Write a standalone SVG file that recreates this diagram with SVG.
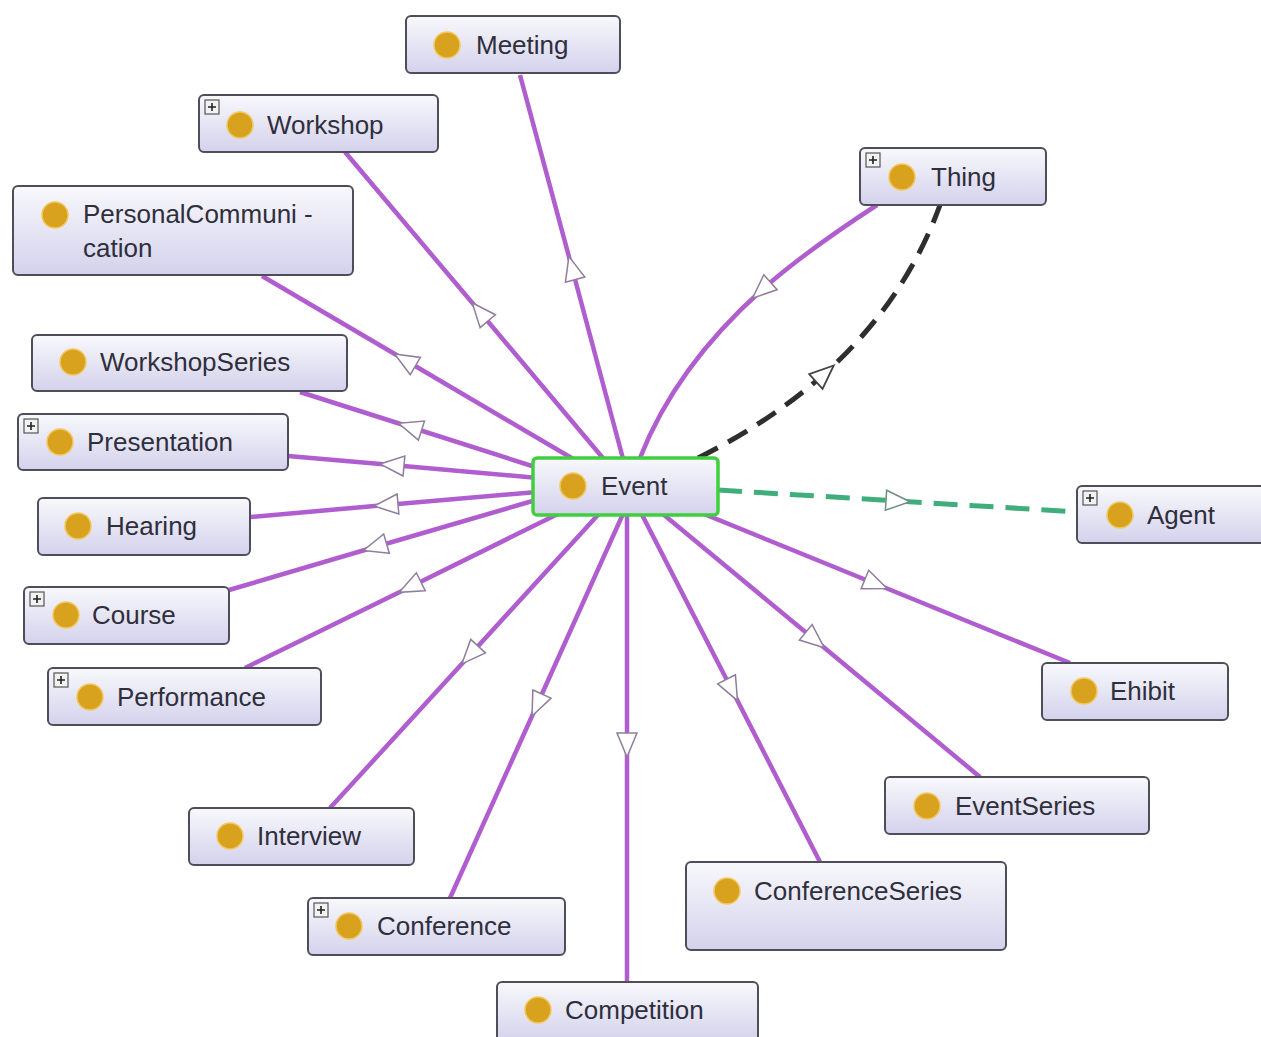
<svg xmlns="http://www.w3.org/2000/svg" width="1261" height="1037" viewBox="0 0 1261 1037">
<style>
.box{fill:url(#g);stroke:#4e4e5a;stroke-width:2}
.ev{fill:url(#g);stroke:#3fcf3f;stroke-width:3.5}
.dot{fill:#d9a21e;stroke:#f0c860;stroke-width:1.5}
.lbl{font-family:"Liberation Sans",Arial,sans-serif;font-size:26px;fill:#2f2f3c}
.pl{fill:#f2f2f2;stroke:#555;stroke-width:1.2}
.plx{stroke:#222;stroke-width:1.6}
.e{fill:none;stroke:#b05dcf;stroke-width:4.5;marker-mid:url(#tri)}
.eb{fill:none;stroke:#2e2e2e;stroke-width:5;stroke-dasharray:22 12;marker-mid:url(#tri2)}
.eg{fill:none;stroke:#3fae7c;stroke-width:5;stroke-dasharray:24 12;marker-mid:url(#tri3)}
</style>
<defs>
<linearGradient id="g" x1="0" y1="0" x2="0" y2="1">
<stop offset="0" stop-color="#f8f8fc"/>
<stop offset="1" stop-color="#d4d2ec"/>
</linearGradient>
<marker id="tri" markerUnits="userSpaceOnUse" viewBox="-14 -12 28 24" markerWidth="28" markerHeight="24" refX="0" refY="0" orient="auto">
<path d="M-12,-10 L12,0 L-12,10 Z" fill="#fff" stroke="#8f7d9c" stroke-width="1.5"/>
</marker>
<marker id="tri2" markerUnits="userSpaceOnUse" viewBox="-14 -12 28 24" markerWidth="28" markerHeight="24" refX="0" refY="0" orient="auto">
<path d="M-12,-10 L12,0 L-12,10 Z" fill="#fff" stroke="#444" stroke-width="1.8"/>
</marker>
<marker id="tri3" markerUnits="userSpaceOnUse" viewBox="-14 -12 28 24" markerWidth="28" markerHeight="24" refX="0" refY="0" orient="auto">
<path d="M-12,-10 L12,0 L-12,10 Z" fill="#fff" stroke="#6f8f80" stroke-width="1.5"/>
</marker>
</defs>
<rect width="1261" height="1037" fill="#fff"/>
<g id="connectors">
<path class="e" d="M626,470 L572,268 L520,75"/>
<path class="e" d="M613,470 L480,312 L345,152"/>
<path class="e" d="M592,470 L405,360 L262,276"/>
<path class="e" d="M576,480 L410,427 L300,392"/>
<path class="e" d="M560,480 L392,465 L288,456"/>
<path class="e" d="M560,490 L386,505 L250,517"/>
<path class="e" d="M560,493 L375,547 L229,590"/>
<path class="e" d="M570,508 L410,587 L245,668"/>
<path class="e" d="M607,505 L470,655 L330,808"/>
<path class="e" d="M627,505 L537,705 L450,898"/>
<path class="e" d="M627,505 L627,745 L627,982"/>
<path class="e" d="M637,505 L732,690 L820,862"/>
<path class="e" d="M652,505 L815,640 L980,777"/>
<path class="e" d="M682,505 L876,584 L1070,663"/>
<path class="e" d="M877,205 C842.35,227.5 801,255.2 761.5,290.2 C713.15,333.5 667.5,387.6 640,458"/>
<path class="eb" d="M698,458 Q771.4,421.3 824.8,373.5 Q904.8,301.8 940,205"/>
<path class="eg" d="M718,490 L898,501 L1077,512"/>
</g>
<g id="node-meeting">
<rect class="box" x="406" y="16" width="214" height="57" rx="5"/>
<circle class="dot" cx="447" cy="45" r="13"/>
<text class="lbl" x="476" y="54">Meeting</text>
</g>
<g id="node-workshop">
<rect class="box" x="199" y="95" width="239" height="57" rx="5"/>
<rect class="pl" x="205" y="100" width="14" height="14"/>
<path class="plx" d="M208,107 H216 M212,103 V111"/>
<circle class="dot" cx="240" cy="125" r="13"/>
<text class="lbl" x="267" y="134">Workshop</text>
</g>
<g id="node-personalcommunication">
<rect class="box" x="13" y="186" width="340" height="89" rx="5"/>
<circle class="dot" cx="55" cy="215" r="13"/>
<text class="lbl" x="83" y="223">PersonalCommuni -</text>
<text class="lbl" x="83" y="257">cation</text>
</g>
<g id="node-thing">
<rect class="box" x="860" y="148" width="186" height="57" rx="5"/>
<rect class="pl" x="866" y="153" width="14" height="14"/>
<path class="plx" d="M869,160 H877 M873,156 V164"/>
<circle class="dot" cx="902" cy="177" r="13"/>
<text class="lbl" x="931" y="186">Thing</text>
</g>
<g id="node-workshopseries">
<rect class="box" x="32" y="335" width="315" height="56" rx="5"/>
<circle class="dot" cx="73" cy="362" r="13"/>
<text class="lbl" x="100" y="371">WorkshopSeries</text>
</g>
<g id="node-presentation">
<rect class="box" x="18" y="414" width="270" height="56" rx="5"/>
<rect class="pl" x="24" y="419" width="14" height="14"/>
<path class="plx" d="M27,426 H35 M31,422 V430"/>
<circle class="dot" cx="60" cy="442" r="13"/>
<text class="lbl" x="87" y="451">Presentation</text>
</g>
<g id="node-event">
<rect class="ev" x="533" y="458" width="185" height="57" rx="4"/>
<circle class="dot" cx="573" cy="486" r="13"/>
<text class="lbl" x="601" y="495">Event</text>
</g>
<g id="node-agent">
<rect class="box" x="1077" y="486" width="190" height="57" rx="5"/>
<rect class="pl" x="1083" y="491" width="14" height="14"/>
<path class="plx" d="M1086,498 H1094 M1090,494 V502"/>
<circle class="dot" cx="1120" cy="515" r="13"/>
<text class="lbl" x="1147" y="524">Agent</text>
</g>
<g id="node-hearing">
<rect class="box" x="38" y="498" width="212" height="57" rx="5"/>
<circle class="dot" cx="78" cy="526" r="13"/>
<text class="lbl" x="106" y="535">Hearing</text>
</g>
<g id="node-course">
<rect class="box" x="24" y="587" width="205" height="57" rx="5"/>
<rect class="pl" x="30" y="592" width="14" height="14"/>
<path class="plx" d="M33,599 H41 M37,595 V603"/>
<circle class="dot" cx="66" cy="615" r="13"/>
<text class="lbl" x="92" y="624">Course</text>
</g>
<g id="node-performance">
<rect class="box" x="48" y="668" width="273" height="57" rx="5"/>
<rect class="pl" x="54" y="673" width="14" height="14"/>
<path class="plx" d="M57,680 H65 M61,676 V684"/>
<circle class="dot" cx="90" cy="697" r="13"/>
<text class="lbl" x="117" y="706">Performance</text>
</g>
<g id="node-ehibit">
<rect class="box" x="1042" y="663" width="186" height="57" rx="5"/>
<circle class="dot" cx="1084" cy="691" r="13"/>
<text class="lbl" x="1110" y="700">Ehibit</text>
</g>
<g id="node-eventseries">
<rect class="box" x="885" y="777" width="264" height="57" rx="5"/>
<circle class="dot" cx="927" cy="806" r="13"/>
<text class="lbl" x="955" y="815">EventSeries</text>
</g>
<g id="node-interview">
<rect class="box" x="189" y="808" width="225" height="57" rx="5"/>
<circle class="dot" cx="230" cy="836" r="13"/>
<text class="lbl" x="257" y="845">Interview</text>
</g>
<g id="node-conferenceseries">
<rect class="box" x="686" y="862" width="320" height="88" rx="5"/>
<circle class="dot" cx="727" cy="891" r="13"/>
<text class="lbl" x="754" y="900">ConferenceSeries</text>
</g>
<g id="node-conference">
<rect class="box" x="308" y="898" width="257" height="57" rx="5"/>
<rect class="pl" x="314" y="903" width="14" height="14"/>
<path class="plx" d="M317,910 H325 M321,906 V914"/>
<circle class="dot" cx="349" cy="926" r="13"/>
<text class="lbl" x="377" y="935">Conference</text>
</g>
<g id="node-competition">
<rect class="box" x="497" y="982" width="261" height="60" rx="5"/>
<circle class="dot" cx="538" cy="1010" r="13"/>
<text class="lbl" x="565" y="1019">Competition</text>
</g>
</svg>
